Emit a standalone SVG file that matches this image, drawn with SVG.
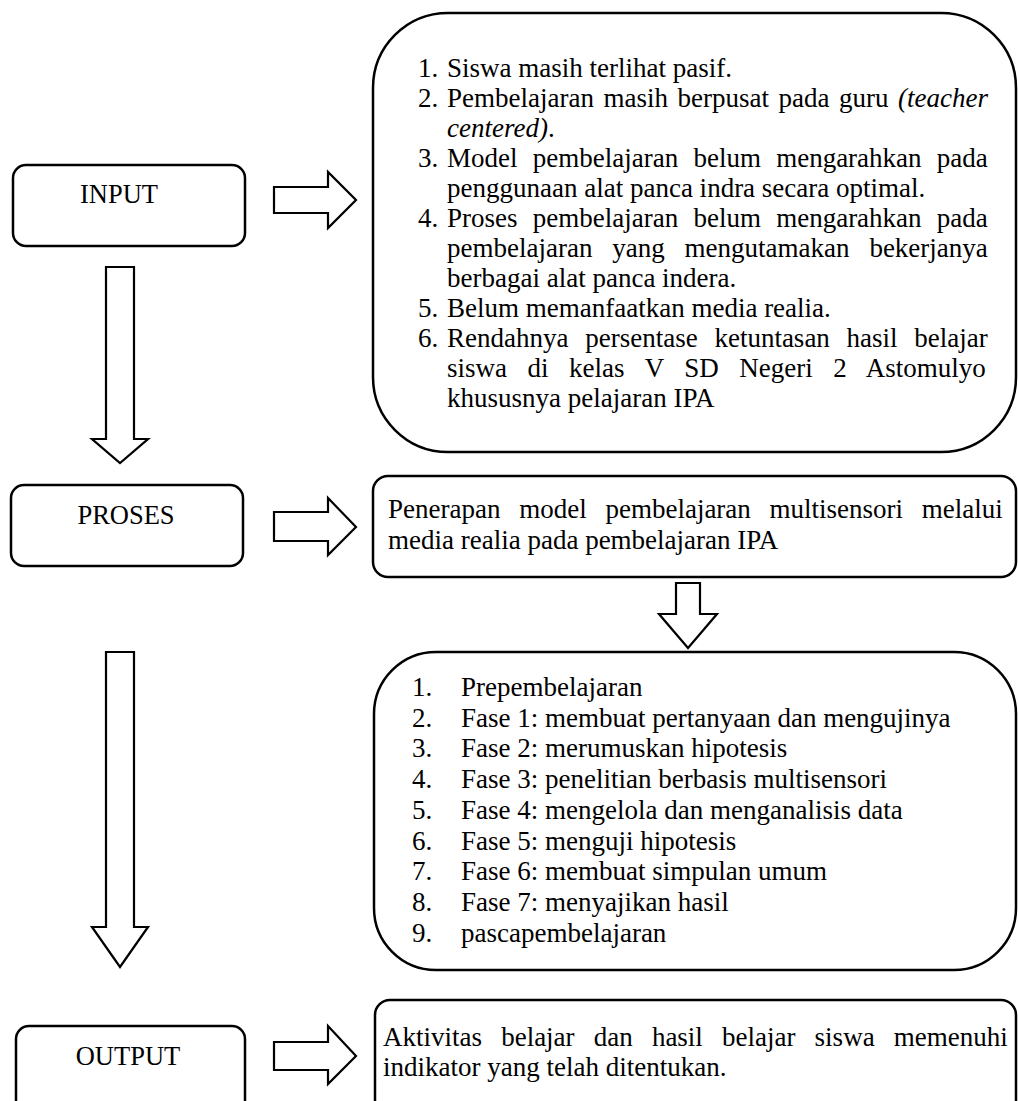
<svg xmlns="http://www.w3.org/2000/svg" width="1018" height="1101" viewBox="0 0 1018 1101" font-family="'Liberation Serif', 'Times New Roman', serif">
<style>
  .box { fill: #fff; stroke: #000; stroke-width: 2.5; }
  .arr { fill: #fff; stroke: #000; stroke-width: 2.2; stroke-linejoin: miter; }
  .lbl { font-family: 'Liberation Serif', 'Times New Roman', serif; font-size: 26.5px; text-anchor: middle; fill: #000; }
  .tx { font-family: 'Liberation Serif', 'Times New Roman', serif; font-size: 27px; fill: #000; }
  .it { font-style: italic; }
</style>
<rect width="1018" height="1101" fill="#fff"/>

<g id="connectors">
  <path class="arr" d="M274,187 H328 V172 L356,200 L328,228 V213 H274 Z"/>
  <path class="arr" d="M106,267 H134 V439 H148 L120,463 L92,439 H106 Z"/>
  <path class="arr" d="M274,512 H328 V498 L356,527 L328,555 V541 H274 Z"/>
  <path class="arr" d="M676,583 H700 V614 H717 L688,648 L659,614 H676 Z"/>
  <path class="arr" d="M106,652 H134 V927 H148 L120,967 L92,927 H106 Z"/>
  <path class="arr" d="M274,1042 H328 V1026 L356,1056 L328,1084 V1070 H274 Z"/>
</g>

<g id="input">
  <rect class="box" x="13" y="165" width="232" height="81" rx="13"/>
  <text class="lbl" x="119" y="203">INPUT</text>
</g>

<g id="masalah">
  <rect class="box" x="373" y="13" width="643" height="439" rx="75"/>
  <text class="tx" x="418" y="77">1.</text>
  <text class="tx" x="447" y="77">Siswa masih terlihat pasif.</text>
  <text class="tx" x="418" y="107">2.</text>
  <text class="tx" x="447" y="107" word-spacing="2.8">Pembelajaran masih berpusat pada guru <tspan class="it">(teacher</tspan></text>
  <text class="tx" x="447" y="137"><tspan class="it">centered)</tspan>.</text>
  <text class="tx" x="418" y="167">3.</text>
  <text class="tx" x="447" y="167" word-spacing="8.5">Model pembelajaran belum mengarahkan pada</text>
  <text class="tx" x="447" y="197">penggunaan alat panca indra secara optimal.</text>
  <text class="tx" x="418" y="227">4.</text>
  <text class="tx" x="447" y="227" word-spacing="8.5">Proses pembelajaran belum mengarahkan pada</text>
  <text class="tx" x="447" y="257" word-spacing="13.1">pembelajaran yang mengutamakan bekerjanya</text>
  <text class="tx" x="447" y="287">berbagai alat panca indera.</text>
  <text class="tx" x="418" y="317">5.</text>
  <text class="tx" x="447" y="317">Belum memanfaatkan media realia.</text>
  <text class="tx" x="418" y="347">6.</text>
  <text class="tx" x="447" y="347" word-spacing="10">Rendahnya persentase ketuntasan hasil belajar</text>
  <text class="tx" x="447" y="377" word-spacing="13.8">siswa di kelas V SD Negeri 2 Astomulyo</text>
  <text class="tx" x="447" y="407">khususnya pelajaran IPA</text>
</g>

<g id="proses">
  <rect class="box" x="11" y="485" width="232" height="81" rx="13"/>
  <text class="lbl" x="126" y="524">PROSES</text>
</g>

<g id="penerapan">
  <rect class="box" x="373" y="476" width="643" height="101" rx="15"/>
  <text class="tx" x="388" y="518" word-spacing="12">Penerapan model pembelajaran multisensori melalui</text>
  <text class="tx" x="388" y="549">media realia pada pembelajaran IPA</text>
</g>

<g id="langkah">
  <rect class="box" x="374" y="652" width="642" height="318" rx="62"/>
  <text class="tx" x="412" y="696">1.</text>
  <text class="tx" x="461" y="696">Prepembelajaran</text>
  <text class="tx" x="412" y="726.7">2.</text>
  <text class="tx" x="461" y="726.7">Fase 1: membuat pertanyaan dan mengujinya</text>
  <text class="tx" x="412" y="757.4">3.</text>
  <text class="tx" x="461" y="757.4">Fase 2: merumuskan hipotesis</text>
  <text class="tx" x="412" y="788.1">4.</text>
  <text class="tx" x="461" y="788.1">Fase 3: penelitian berbasis multisensori</text>
  <text class="tx" x="412" y="818.8">5.</text>
  <text class="tx" x="461" y="818.8">Fase 4: mengelola dan menganalisis data</text>
  <text class="tx" x="412" y="849.5">6.</text>
  <text class="tx" x="461" y="849.5">Fase 5: menguji hipotesis</text>
  <text class="tx" x="412" y="880.2">7.</text>
  <text class="tx" x="461" y="880.2">Fase 6: membuat simpulan umum</text>
  <text class="tx" x="412" y="910.9">8.</text>
  <text class="tx" x="461" y="910.9">Fase 7: menyajikan hasil</text>
  <text class="tx" x="412" y="941.6">9.</text>
  <text class="tx" x="461" y="941.6">pascapembelajaran</text>
</g>

<g id="output">
  <rect class="box" x="16" y="1026" width="229" height="100" rx="13"/>
  <text class="lbl" x="128" y="1065">OUTPUT</text>
</g>

<g id="hasil">
  <rect class="box" x="375" y="1000" width="641" height="130" rx="15"/>
  <text class="tx" x="383" y="1046" word-spacing="12.4">Aktivitas belajar dan hasil belajar siswa memenuhi</text>
  <text class="tx" x="383" y="1076">indikator yang telah ditentukan.</text>
</g>
</svg>
